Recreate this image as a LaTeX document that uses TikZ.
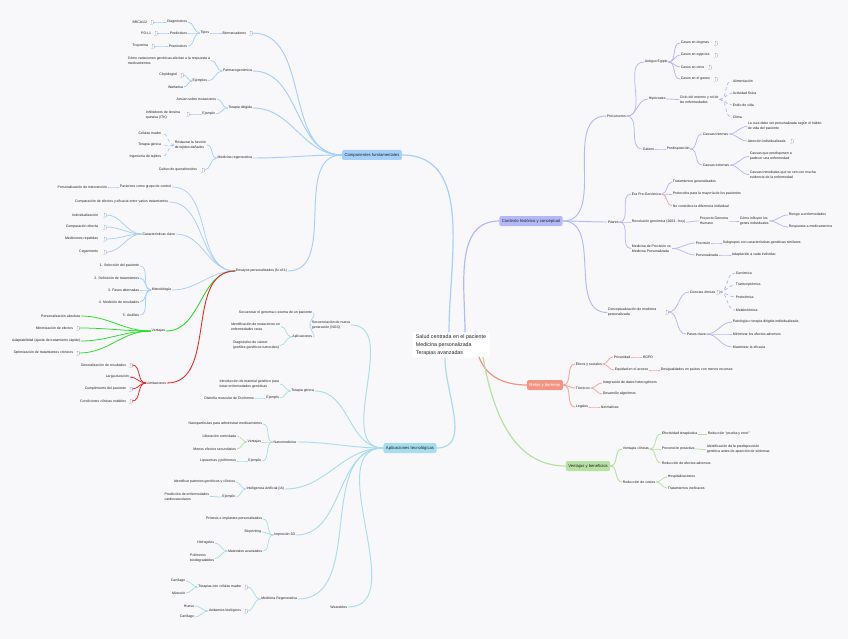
\documentclass[tikz,border=0pt]{standalone}
\usepackage{fontspec}
\setmainfont{Liberation Sans}
\definecolor{paper}{HTML}{F8F8FA}
\definecolor{ink}{HTML}{222222}
\definecolor{sky}{HTML}{A5D0FA}
\definecolor{aqua}{HTML}{A7DDEE}
\definecolor{lilac}{HTML}{B3B8F7}
\definecolor{coral}{HTML}{F29484}
\definecolor{sage}{HTML}{B7E0A3}
\definecolor{vivgreen}{HTML}{22DD22}
\definecolor{vivred}{HTML}{EE2020}

\tikzset{
  toL/.style={out=180,in=0},
  toR/.style={out=0,in=180},
  lft/.style={anchor=east,align=left},
  rgt/.style={anchor=west,align=left},
  hub/.style={rounded corners=2pt,minimum height=10pt,inner xsep=2.5pt,font=\fontsize{4.2}{5}\selectfont},
  fold/.style={draw=ink!35,densely dotted,line width=.25pt,minimum width=2.5pt,minimum height=3.5pt,inner sep=0pt},
  bl/.style={draw=sky,line width=.75pt},
  cy/.style={draw=aqua,line width=.75pt},
  lv/.style={draw=lilac,line width=.75pt},
  sa/.style={draw=coral!80,line width=.75pt},
  gr/.style={draw=sage,line width=.75pt},
  thick1/.style={line width=.95pt},
}

\begin{document}
\begin{tikzpicture}[x=1pt,y=-1pt,font=\fontsize{3.5}{5}\selectfont,
  every node/.style={text=ink,inner sep=.7pt},line cap=round]
  \fill[paper] (0,0) rectangle (848,639);
  \useasboundingbox (0,0) rectangle (848,639);

  % central topic and the five main branches
  \node[fill=white,rounded corners=2pt,minimum width=77pt,minimum height=26pt,align=left,
        font=\fontsize{5.3}{8}\selectfont] (root) at (451,345)
        {Salud centrada en el paciente\\Medicina personalizada\\Terapias avanzadas};
  \node[hub,fill=sky] (comp) at (372,155) {Componentes fundamentales};
  \node[hub,fill=aqua] (apl) at (410,448) {Aplicaciones tecnológicas};
  \node[hub,fill=lilac] (ctx) at (531,221) {Contexto histórico y conceptual};
  \node[hub,fill=coral,text=white] (retos) at (545,385) {Retos y barreras};
  \node[hub,fill=sage] (ventb) at (588,466) {Ventajas y beneficios};

  \coordinate (cN1) at (449,332);
  \coordinate (cN2) at (465,332);
  \coordinate (cS1) at (445,358);
  \coordinate (cS2) at (479,357);
  \coordinate (cS3) at (483,357);
  \draw[sky,line width=1.2pt] (comp.east) to[out=0,in=90] (cN1);
  \draw[lilac,line width=1.2pt] (ctx.west) to[out=180,in=90] (cN2);
  \draw[aqua,line width=1.2pt] (cS1) to[out=-90,in=0] (apl.east);
  \draw[coral,line width=1.2pt] (cS2) to[out=-70,in=180] (retos.west);
  \draw[sage,line width=1.2pt] (cS3) to[out=-80,in=180] (ventb.west);

  % Componentes fundamentales
  \node[lft] (bio) at (247,33) {Biomarcadores};
  \node[fold] (fBio) at (251,33) {};
  \node[lft] (tipos) at (210,33) {Tipos};
  \node[lft] (diag) at (188,22) {Diagnósticos};
  \node[lft] (pred) at (188,33) {Predictivos};
  \node[lft] (pron) at (188,46) {Pronósticos};
  \node[fold] (fBrca) at (152,22) {};
  \node[lft] (brca) at (148,22) {BRCA1/2};
  \node[fold] (fPdl) at (156,33) {};
  \node[lft] (pdl) at (152,33) {PD-L1};
  \node[fold] (fTrop) at (153,46) {};
  \node[lft] (trop) at (149,46) {Troponina};

  \node[lft] (farm) at (253,71) {Farmacogenómica};
  \node[lft] (como) at (211,60.5) {Cómo variaciones genéticas afectan a la respuesta a\\medicamentos};
  \node[lft] (ejs) at (208,81) {Ejemplos};
  \node[fold] (fClop) at (182,75) {};
  \node[lft] (clop) at (178,75) {Clopidogrel};
  \node[lft] (warf) at (184,87) {Warfarina};

  \node[lft] (tdir) at (253,108) {Terapia dirigida};
  \node[lft] (actu) at (217,99) {Actúan sobre mutaciones};
  \node[lft] (ejtd) at (216,114) {Ejemplo};
  \node[fold] (fItk) at (188,114) {};
  \node[lft] (itk) at (181,115) {Inhibidores de tirosina\\quinasa (ITK)};

  \node[lft] (mreg) at (253,158) {Medicina regenerativa};
  \node[lft] (rest) at (207,145) {Restaurar la función\\de tejidos dañados};
  \node[lft] (celm) at (162,133) {Células madre};
  \node[lft] (tgen) at (162,145) {Terapia génica};
  \node[lft] (ingt) at (162,157) {Ingeniería de tejidos};
  \node[fold] (fCult) at (203,170) {};
  \node[lft] (cult) at (198,170) {Cultivo de queratinocitos};

  \draw[bl,thick1] (comp.west) to[toL] (fBio.east);
  \draw[bl,thick1] (comp.west) to[toL] (farm.east);
  \draw[bl,thick1] (comp.west) to[toL] (tdir.east);
  \draw[bl,thick1] (comp.west) to[toL] (mreg.east);
  \draw[bl] (bio.west) to[toL] (tipos.east);
  \foreach \k in {diag,pred,pron} \draw[bl] (tipos.west) to[toL] (\k.east);
  \draw[bl] (diag.west) to[toL] (fBrca.east);
  \draw[bl] (pred.west) to[toL] (fPdl.east);
  \draw[bl] (pron.west) to[toL] (fTrop.east);
  \draw[bl] (farm.west) to[toL] (como.east);
  \draw[bl] (farm.west) to[toL] (ejs.east);
  \draw[bl] (ejs.west) to[toL] (fClop.east);
  \draw[bl] (ejs.west) to[toL] (warf.east);
  \draw[bl] (tdir.west) to[toL] (actu.east);
  \draw[bl] (tdir.west) to[toL] (ejtd.east);
  \draw[bl] (ejtd.west) to[toL] (fItk.east);
  \draw[bl] (mreg.west) to[toL] (rest.east);
  \draw[bl] (mreg.west) to[toL] (fCult.east);
  \foreach \k in {celm,tgen,ingt} \draw[bl,dashed] (rest.west) to[toL] (\k.east);

  % Ensayos personalizados
  \node[lft] (ens) at (288,271) {Ensayos personalizados (N-of-1)};
  \node[lft] (pctrl) at (172,187) {Pacientes como grupo de control};
  \node[lft] (pint) at (108,187) {Personalización de intervención};
  \node[lft] (cef) at (169,202) {Comparación de efectos y eficacia entre varios tratamientos};
  \node[lft] (ccl) at (176,234) {Características clave};
  \node[fold] (fInd) at (105,215) {};
  \node[lft] (ind) at (99,215) {Individualización};
  \node[fold] (fCdi) at (105,227) {};
  \node[lft] (cdi) at (99,227) {Comparación directa};
  \node[fold] (fMre) at (105,239) {};
  \node[lft] (mre) at (99,239) {Mediciones repetidas};
  \node[fold] (fCeg) at (105,252) {};
  \node[lft] (ceg) at (99,252) {Cegamiento};
  \node[lft] (met) at (172,290) {Metodología};
  \node[lft] (m1) at (140,266) {1. Selección del paciente};
  \node[lft] (m2) at (140,278) {2. Definición de tratamientos};
  \node[lft] (m3) at (140,290) {3. Fases alternadas};
  \node[lft] (m4) at (140,302) {4. Medición de resultados};
  \node[lft] (m5) at (140,315) {5. Análisis};
  \node[lft] (vent) at (166,331) {Ventajas};
  \node[lft] (v1) at (81,316) {Personalización absoluta};
  \node[fold] (fV2) at (78,328) {};
  \node[lft] (v2) at (74,328) {Minimización de efectos};
  \node[lft] (v3) at (81,341) {Adaptabilidad (ajuste de tratamiento rápido)};
  \node[fold] (fV4) at (78,353) {};
  \node[lft] (v4) at (74,353) {Optimización de tratamientos crónicos};
  \node[lft] (lim) at (167,383) {Limitaciones};
  \node[fold] (fL1) at (131,365) {};
  \node[lft] (l1) at (127,365) {Generalización de resultados};
  \node[lft] (l2) at (130,377) {Larga duración};
  \node[fold] (fL3) at (131,389) {};
  \node[lft] (l3) at (127,389) {Cumplimiento del paciente};
  \node[fold] (fL4) at (131,401) {};
  \node[lft] (l4) at (127,401) {Condiciones clínicas estables};

  \draw[bl,thick1] (comp.west) to[toL] (ens.east);
  \foreach \k in {pctrl,cef,ccl,met} \draw[bl] (ens.west) to[toL] (\k.east);
  \draw[bl] (pctrl.west) to[toL] (pint.east);
  \foreach \k in {fInd,fCdi,fMre,fCeg} \draw[bl] (ccl.west) to[toL] (\k.east);
  \foreach \k in {m1,m2,m3,m4,m5} \draw[bl] (met.west) to[toL] (\k.east);
  \draw[vivgreen,line width=.85pt] (ens.west) to[toL] (vent.east);
  \foreach \k in {v1,fV2,v3,fV4} \draw[vivgreen,line width=.75pt] (vent.west) to[toL] (\k.east);
  \draw[vivred,line width=.85pt] (ens.west) to[toL] (lim.east);
  \foreach \k in {fL1,l2,fL3,fL4} \draw[vivred,line width=.75pt] (lim.west) to[toL] (\k.east);

  % Aplicaciones tecnológicas
  \node[lft] (ngs) at (351,325) {Secuenciación de nueva\\generación (NGS)};
  \node[lft] (secg) at (313,313) {Secuenciar el genoma o exoma de un paciente};
  \node[lft] (aplc) at (313,337) {Aplicaciones};
  \node[lft] (idm) at (281,326.5) {Identificación de mutaciones en\\enfermedades raras};
  \node[lft] (dgc) at (280,345.5) {Diagnóstico de cáncer\\(perfiles genéticos tumorales)};
  \node[lft] (tgn) at (315,391) {Terapia génica};
  \node[lft] (intro) at (280,384) {Introducción de material genético para\\tratar enfermedades genéticas};
  \node[lft] (ejtg) at (280,398) {Ejemplo};
  \node[lft] (dmd) at (255,398) {Distrofia muscular de Duchenne};
  \node[lft] (nano) at (297,442) {Nanomedicina};
  \node[lft] (nanop) at (263,424) {Nanopartículas para administrar medicamentos};
  \node[lft] (ventn) at (262,442) {Ventajas};
  \node[lft] (libc) at (237,436) {Liberación controlada};
  \node[lft] (menos) at (237,449) {Menos efectos secundarios};
  \node[lft] (ejn) at (262,461) {Ejemplo};
  \node[lft] (lipo) at (237,461) {Liposomas y polímeros};
  \node[lft] (ia) at (285,489) {Inteligencia Artificial (IA)};
  \node[lft] (idp) at (236,482) {Identificar patrones genéticos y clínicos};
  \node[lft] (ejia) at (236,497) {Ejemplo};
  \node[lft] (prd) at (210,496.5) {Predicción de enfermedades\\cardiovasculares};
  \node[lft] (i3d) at (296,535) {Impresión 3D};
  \node[lft] (prt) at (263,519) {Prótesis e implantes personalizados};
  \node[lft] (biop) at (262,532) {Bioprinting};
  \node[lft] (mav) at (263,551) {Materiales avanzados};
  \node[lft] (hidr) at (215,543) {Hidrogeles};
  \node[lft] (polb) at (215,558.5) {Polímeros\\biodegradables};
  \node[lft] (mrg) at (298,599) {Medicina Regenerativa};
  \node[fold] (fTcm) at (246,587) {};
  \node[lft] (tcm) at (242,587) {Terapias con células madre};
  \node[lft] (cart) at (186,581) {Cartílago};
  \node[lft] (musc) at (186,593) {Músculo};
  \node[fold] (fAnd) at (246,611) {};
  \node[lft] (anda) at (242,611) {Andamios biológicos};
  \node[lft] (hues) at (195,606) {Hueso};
  \node[lft] (cart2) at (195,617) {Cartílago};
  \node[lft] (wear) at (348,607) {Wearables};

  \foreach \k in {ngs,tgn,nano,ia,i3d,mrg,wear} \draw[cy,thick1] (apl.west) to[toL] (\k.east);
  \draw[cy] (ngs.west) to[toL] (secg.east);
  \draw[cy] (ngs.west) to[toL] (aplc.east);
  \draw[cy] (aplc.west) to[toL] (idm.east);
  \draw[cy] (aplc.west) to[toL] (dgc.east);
  \draw[cy] (tgn.west) to[toL] (intro.east);
  \draw[cy] (tgn.west) to[toL] (ejtg.east);
  \draw[cy] (ejtg.west) to[toL] (dmd.east);
  \draw[cy] (nano.west) to[toL] (nanop.east);
  \draw[gr] (nano.west) to[toL] (ventn.east);
  \draw[cy] (nano.west) to[toL] (ejn.east);
  \draw[gr] (ventn.west) to[toL] (libc.east);
  \draw[gr] (ventn.west) to[toL] (menos.east);
  \draw[cy] (ejn.west) to[toL] (lipo.east);
  \draw[cy] (ia.west) to[toL] (idp.east);
  \draw[cy] (ia.west) to[toL] (ejia.east);
  \draw[cy] (ejia.west) to[toL] (prd.east);
  \foreach \k in {prt,biop,mav} \draw[cy] (i3d.west) to[toL] (\k.east);
  \draw[cy] (mav.west) to[toL] (hidr.east);
  \draw[cy] (mav.west) to[toL] (polb.east);
  \draw[cy] (mrg.west) to[toL] (fTcm.east);
  \draw[cy] (mrg.west) to[toL] (fAnd.east);
  \draw[cy] (tcm.west) to[toL] (cart.east);
  \draw[cy] (tcm.west) to[toL] (musc.east);
  \draw[cy] (anda.west) to[toL] (hues.east);
  \draw[cy] (anda.west) to[toL] (cart2.east);

  % Contexto histórico y conceptual
  \node[rgt] (prec) at (606,116) {Precursores};
  \node[rgt] (egi) at (644,62) {Antiguo Egipto};
  \node[rgt] (e1) at (680,43) {Casos en dogmas};
  \node[fold] (fE1) at (716,43) {};
  \node[rgt] (e2) at (680,55) {Casos en egipcios};
  \node[fold] (fE2) at (716,55) {};
  \node[rgt] (e3) at (680,67) {Casos en otros};
  \node[fold] (fE3) at (710,67) {};
  \node[rgt] (e4) at (680,79) {Casos en el genes};
  \node[fold] (fE4) at (716,79) {};
  \node[rgt] (hip) at (648,99) {Hipócrates};
  \node[rgt] (ciclo) at (679,99.5) {Ciclo del entorno y rol de\\las enfermedades};
  \node[rgt] (alim) at (732,81) {Alimentación};
  \node[rgt] (actf) at (732,93) {Actividad física};
  \node[rgt] (estv) at (732,105) {Estilo de vida};
  \node[rgt] (clim) at (732,117) {Clima};
  \node[rgt] (gal) at (642,149) {Galeno};
  \node[rgt] (pdis) at (666,149) {Predisposición};
  \node[rgt] (cint) at (702,134) {Causas internas};
  \node[rgt] (cura) at (747,126.5) {La cura debe ser personalizada según el hábito\\de vida del paciente};
  \node[rgt] (aten) at (747,141) {Atención individualizada};
  \node[fold] (fAten) at (792,141) {};
  \node[rgt] (cext) at (702,165) {Causas externas};
  \node[rgt] (cpre) at (749,156.5) {Causas que predisponen a\\padecer una enfermedad};
  \node[rgt] (cinm) at (749,174.5) {Causas inmediatas que se ven con mucha\\evidencia de la enfermedad};

  \node[rgt] (pil) at (607,222) {Pilares};
  \node[rgt] (era) at (631,194) {Era Pre-Genómica};
  \node[rgt] (trg) at (672,182) {Tratamientos generalizados};
  \node[rgt] (prot) at (672,194) {Protocolos para la mayoría de los pacientes};
  \node[rgt] (nocd) at (672,206) {No considera la diferencia individual};
  \node[rgt] (revg) at (631,222) {Revolución genómica (2003 - hoy)};
  \node[rgt] (pgh) at (699,221) {Proyecto Genoma\\Humano};
  \node[rgt] (cinf) at (739,221) {Cómo influyen los\\genes individuales};
  \node[rgt] (rsg) at (788,215) {Riesgo a enfermedades};
  \node[rgt] (rsp) at (788,227) {Respuesta a medicamentos};
  \node[rgt] (mpvs) at (631,248.5) {Medicina de Precisión vs.\\Medicina Personalizada};
  \node[rgt] (prcs) at (695,243) {Precisión};
  \node[rgt] (sbg) at (722,243) {Subgrupos con características genéticas similares};
  \node[rgt] (prsz) at (695,255) {Personalizada};
  \node[rgt] (adap) at (731,255) {Adaptación a cada individuo};

  \node[rgt] (conc) at (607,312.5) {Conceptualización de medicina\\personalizada};
  \node[fold] (fConc) at (667,312) {};
  \node[rgt] (omic) at (689,292) {Ciencias ómicas};
  \node[fold] (fOmic) at (718,292) {};
  \node[rgt] (genm) at (735,273) {Genómica};
  \node[rgt] (trns) at (735,285) {Transcriptómica};
  \node[rgt] (prtm) at (735,297) {Proteómica};
  \node[rgt] (mtbm) at (735,310) {Metabolómica};
  \node[rgt] (pasos) at (686,334) {Pasos clave};
  \node[rgt] (pati) at (732,322) {Patología o terapia dirigida individualizada};
  \node[rgt] (mini) at (732,334) {Minimizar los efectos adversos};
  \node[rgt] (maxi) at (732,347) {Maximizar la eficacia};

  \foreach \k in {prec,pil,conc} \draw[lv,thick1] (ctx.east) to[toR] (\k.west);
  \foreach \k in {egi,hip,gal} \draw[lv] (prec.east) to[toR] (\k.west);
  \foreach \k in {e1,e2,e3,e4} \draw[lv] (egi.east) to[toR] (\k.west);
  \draw[lv] (hip.east) to[toR] (ciclo.west);
  \foreach \k in {alim,actf,estv,clim} \draw[lv,dashed] (ciclo.east) to[toR] (\k.west);
  \draw[lv] (gal.east) to[toR] (pdis.west);
  \draw[lv] (pdis.east) to[toR] (cint.west);
  \draw[lv] (pdis.east) to[toR] (cext.west);
  \draw[lv] (cint.east) to[toR] (cura.west);
  \draw[lv] (cint.east) to[toR] (aten.west);
  \draw[lv] (cext.east) to[toR] (cpre.west);
  \draw[lv] (cext.east) to[toR] (cinm.west);
  \foreach \k in {era,revg,mpvs} \draw[lv] (pil.east) to[toR] (\k.west);
  \draw[lv] (era.east) to[toR] (trg.west);
  \draw[lv] (era.east) to[toR] (prot.west);
  \draw[sa] (era.east) to[toR] (nocd.west);
  \draw[lv] (revg.east) to[toR] (pgh.west);
  \draw[lv] (pgh.east) to[toR] (cinf.west);
  \draw[lv] (cinf.east) to[toR] (rsg.west);
  \draw[lv] (cinf.east) to[toR] (rsp.west);
  \draw[lv] (mpvs.east) to[toR] (prcs.west);
  \draw[lv] (mpvs.east) to[toR] (prsz.west);
  \draw[lv] (prcs.east) to[toR] (sbg.west);
  \draw[lv] (prsz.east) to[toR] (adap.west);
  \draw[lv] (fConc.east) to[toR] (omic.west);
  \draw[lv] (fConc.east) to[toR] (pasos.west);
  \foreach \k in {genm,trns,prtm,mtbm} \draw[lv,dashed] (fOmic.east) to[toR] (\k.west);
  \foreach \k in {pati,mini,maxi} \draw[lv] (pasos.east) to[toR] (\k.west);

  % Retos y barreras
  \node[rgt] (etic) at (575,364) {Éticos y sociales};
  \node[rgt] (priv) at (613,357) {Privacidad};
  \node[rgt] (rgpd) at (642,357) {RGPD};
  \node[rgt] (equi) at (614,370) {Equidad en el acceso};
  \node[rgt] (desg) at (660,370) {Desigualdades en países con menos recursos};
  \node[rgt] (tecn) at (575,388) {Técnicos};
  \node[rgt] (intg) at (602,383) {Integración de datos heterogéneos};
  \node[rgt] (dalg) at (602,394) {Desarrollo algoritmos};
  \node[rgt] (legl) at (575,407) {Legales};
  \node[rgt] (norm) at (600,407) {Normativas};

  \foreach \k in {etic,tecn,legl} \draw[sa,thick1] (retos.east) to[toR] (\k.west);
  \draw[sa] (etic.east) to[toR] (priv.west);
  \draw[sa] (etic.east) to[toR] (equi.west);
  \draw[sa] (priv.east) to[toR] (rgpd.west);
  \draw[sa] (equi.east) to[toR] (desg.west);
  \draw[sa] (tecn.east) to[toR] (intg.west);
  \draw[sa] (tecn.east) to[toR] (dalg.west);
  \draw[sa] (legl.east) to[toR] (norm.west);

  % Ventajas y beneficios
  \node[rgt] (vcl) at (622,449) {Ventajas clínicas};
  \node[rgt] (efc) at (661,434) {Efectividad terapéutica};
  \node[rgt] (rpe) at (707,434) {Reducción ``prueba y error''};
  \node[rgt] (prv) at (661,449) {Prevención proactiva};
  \node[rgt] (idn) at (706,449.5) {Identificación de la predisposición\\genética antes de aparición de síntomas};
  \node[rgt] (red) at (661,463) {Reducción de efectos adversos};
  \node[rgt] (rco) at (622,482) {Reducción de costes};
  \node[rgt] (hsp) at (667,477) {Hospitalizaciones};
  \node[rgt] (tin) at (667,488) {Tratamientos ineficaces};

  \draw[gr,thick1] (ventb.east) to[toR] (vcl.west);
  \draw[gr,thick1] (ventb.east) to[toR] (rco.west);
  \foreach \k in {efc,prv,red} \draw[gr] (vcl.east) to[toR] (\k.west);
  \draw[gr] (efc.east) to[toR] (rpe.west);
  \draw[gr] (prv.east) to[toR] (idn.west);
  \draw[gr] (rco.east) to[toR] (hsp.west);
  \draw[gr] (rco.east) to[toR] (tin.west);
\end{tikzpicture}
\end{document}
